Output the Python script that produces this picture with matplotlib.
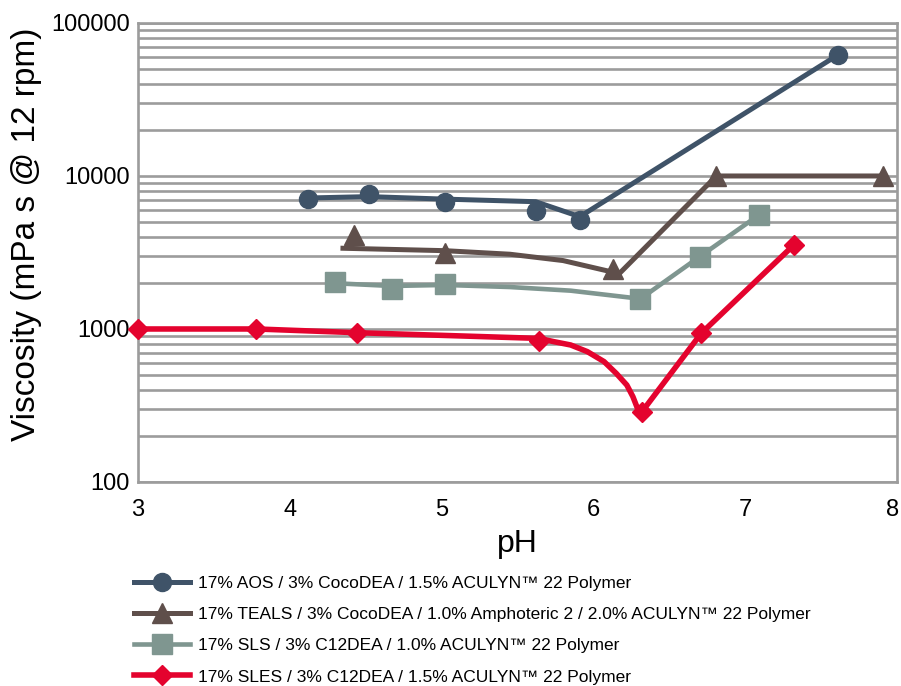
import matplotlib
matplotlib.use("Agg")
import matplotlib.pyplot as plt
from matplotlib.lines import Line2D
from matplotlib.transforms import offset_copy

plt.rcParams['font.family'] = ['Liberation Sans', 'DejaVu Sans']

# measured points (markers)
aos_ph = [4.12, 4.52, 5.02, 5.62, 5.91, 7.61]
aos_visc = [7080, 7620, 6790, 5930, 5150, 61800]
teals_ph = [4.42, 5.02, 6.13, 6.81, 7.91]
teals_visc = [4110, 3130, 2450, 10000, 10000]
sls_ph = [4.30, 4.67, 5.02, 6.31, 6.70, 7.09]
sls_visc = [2040, 1820, 1960, 1575, 2970, 5560]
sles_ph = [3.0, 3.78, 4.44, 5.64, 6.32, 6.71, 7.32]
sles_visc = [1000, 1000, 940, 830, 288, 937, 3540]

# trend lines as drawn in the original (do not pass exactly through points)
aos_line_ph = [4.12, 4.52, 5.02, 5.62, 5.91, 7.61]
aos_line_visc = [7180, 7330, 7060, 6790, 5420, 61800]
teals_line_ph = [4.35, 5.02, 5.45, 5.80, 6.17, 6.81, 7.91]
teals_line_visc = [3370, 3250, 3080, 2800, 2300, 10000, 10000]
sls_line_ph = [4.30, 4.67, 5.02, 5.45, 5.85, 6.31, 6.70, 7.09]
sls_line_visc = [1990, 1910, 1940, 1880, 1780, 1575, 2970, 5560]
sles_line_ph = [3.0, 3.78, 4.44, 5.64, 5.74, 5.85, 5.96, 6.07, 6.15, 6.22, 6.26, 6.29, 6.32, 6.71, 7.32]
sles_line_visc = [1000, 1000, 946, 868, 826, 786, 711, 612, 513, 430, 361, 303, 288, 937, 3540]

labels = [
    "17% AOS / 3% CocoDEA / 1.5% ACULYN\u2122 22 Polymer",
    "17% TEALS / 3% CocoDEA / 1.0% Amphoteric 2 / 2.0% ACULYN\u2122 22 Polymer",
    "17% SLS / 3% C12DEA / 1.0% ACULYN\u2122 22 Polymer",
    "17% SLES / 3% C12DEA / 1.5% ACULYN\u2122 22 Polymer",
]
colors = ['#3f5368', '#5f4f4b', '#7f9690', '#e4032e']
markers = ['o', '^', 's', 'D']
msizes = [13, 14, 15, 10]
lwidths = [3.6, 3.6, 3.3, 4.0]

series = [
    (aos_ph, aos_visc, aos_line_ph, aos_line_visc),
    (teals_ph, teals_visc, teals_line_ph, teals_line_visc),
    (sls_ph, sls_visc, sls_line_ph, sls_line_visc),
    (sles_ph, sles_visc, sles_line_ph, sles_line_visc),
]

fig = plt.figure(figsize=(9.01, 6.86), dpi=100)
ax = fig.add_axes([0.1532, 0.2974, 0.8424, 0.6691])

gray = '#9c9c9c'
for i, (px, py, lx, ly) in enumerate(series):
    ax.plot(lx, ly, color=colors[i], lw=lwidths[i], solid_joinstyle='round', zorder=3)
    ax.plot(px, py, ls='none', marker=markers[i], ms=msizes[i], color=colors[i],
            mec=colors[i], zorder=4, clip_on=False)

ax.set_yscale('log')
ax.set_ylim(100, 100000)
ax.set_xlim(3, 8)
ax.set_xticks([3, 4, 5, 6, 7, 8])
ax.set_yticks([100, 1000, 10000, 100000])
ax.set_yticklabels(['100', '1000', '10000', '100000'])
ax.grid(True, which='both', axis='y', color=gray, lw=1.9)
ax.set_axisbelow(True)
for s in ax.spines.values():
    s.set_color(gray)
    s.set_linewidth(1.9)
ax.tick_params(axis='both', which='both', length=0, labelsize=17)
ax.tick_params(axis='x', pad=12)
ax.tick_params(axis='y', pad=6)
ax.set_xlabel('pH', fontsize=23, labelpad=6)
ax.set_ylabel('Viscosity (mPa s @ 12 rpm)', fontsize=24)
ax.yaxis.set_label_coords(-0.126, 0.54)

# keep the last x tick label inside the figure
fig.canvas.draw()
last = ax.get_xticklabels()[-1]
last.set_transform(offset_copy(last.get_transform(), fig=fig, x=-4, y=0, units='dots'))

handles = [Line2D([], [], color=colors[i], lw=lwidths[i], marker=markers[i], ms=msizes[i])
           for i in range(4)]
fig.legend(handles, labels, loc='upper left', bbox_to_anchor=(134 / 901, 1 - 576 / 686),
           frameon=False, fontsize=12.5, handlelength=3.2, handletextpad=0.5,
           labelspacing=0.92, borderpad=0, borderaxespad=0)

fig.savefig('out.png', dpi=100)
